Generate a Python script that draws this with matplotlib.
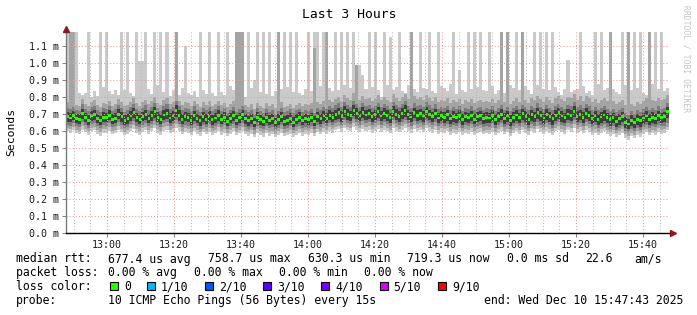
import numpy as np
import matplotlib
matplotlib.use("Agg")
import matplotlib.pyplot as plt
import matplotlib.dates as mdates
from matplotlib.patches import Rectangle
from datetime import datetime, timedelta

# ---------------- data (microseconds) ----------------
title = "Last 3 Hours"
start_time = datetime(2025, 12, 10, 12, 47, 43)
step_seconds = 54

median_us = [
    683,676,690,671,668,702,679,664,688,695,672,660,681,677,693,668,674,699,685,662,
    671,688,706,679,666,684,697,673,690,712,681,667,694,703,676,688,721,692,670,685,
    678,664,691,673,659,683,670,688,665,676,692,668,681,657,674,689,663,677,695,671,
    659,672,648,681,666,654,677,662,671,650,668,683,658,664,675,652,669,680,661,673,
    666,679,657,684,671,688,675,693,681,697,708,686,715,699,690,722,705,688,711,694,
    701,683,696,712,688,705,692,679,716,698,687,704,721,695,682,709,693,701,688,714,
    697,684,702,676,690,681,695,672,686,679,693,668,684,677,691,670,683,689,674,681,
    676,692,668,685,699,674,688,663,681,694,677,701,686,670,695,683,707,689,676,698,
    684,671,693,706,688,679,700,692,715,686,697,681,704,690,673,688,669,682,694,677,
    665,679,658,671,684,652,641,663,648,670,659,676,688,669,681,673,690,678,684,712]

ping1_us = [
    598,590,604,586,581,608,593,577,600,603,584,572,591,589,602,580,586,606,594,575,
    582,598,611,589,579,596,605,585,599,615,590,578,600,608,587,596,620,599,581,594,
    589,575,598,584,571,593,581,596,577,587,599,579,591,569,584,597,575,587,600,581,
    571,582,562,589,576,567,586,573,581,564,577,591,569,575,585,565,579,589,572,583,
    577,589,569,592,581,596,585,600,590,603,609,594,616,604,597,621,608,594,614,599,
    605,590,601,614,594,608,597,586,617,602,592,607,620,599,588,611,597,604,592,615,
    601,589,605,583,594,587,598,578,591,585,596,575,589,583,595,577,588,593,580,586,
    582,595,574,590,602,580,592,569,586,598,583,604,590,576,598,587,609,593,581,601,
    589,576,597,608,592,584,603,595,617,590,600,586,607,594,578,591,574,587,598,582,
    570,584,564,576,588,559,549,568,556,575,565,581,592,574,586,578,593,583,588,604]

ping2_us = [
    615,610,622,606,601,628,612,597,620,624,605,594,612,609,623,600,607,627,614,596,
    603,620,633,610,599,616,626,605,620,637,611,599,622,630,608,617,643,621,602,616,
    610,596,620,605,592,614,602,617,598,608,621,600,612,591,605,618,596,608,622,602,
    592,603,583,610,597,588,607,594,602,585,598,612,590,596,606,586,600,610,593,604,
    598,610,590,613,602,617,606,621,611,624,631,615,638,626,618,644,630,615,636,621,
    627,612,623,636,616,630,619,608,639,624,614,629,642,621,610,633,619,626,614,637,
    623,611,627,605,616,609,620,600,613,607,618,597,611,605,617,599,610,615,602,608,
    604,617,596,612,624,602,614,591,608,620,605,626,612,598,620,609,631,615,603,623,
    611,598,619,630,614,606,625,617,639,612,622,608,629,616,600,613,596,609,620,604,
    592,606,586,598,610,581,571,590,578,597,587,603,614,596,608,600,615,605,610,626]

ping3_us = [
    638,632,646,628,622,650,634,619,642,647,627,616,634,631,645,622,629,650,636,618,
    625,642,656,632,621,638,648,627,642,660,633,621,645,653,630,639,667,643,624,638,
    632,618,642,627,614,636,624,639,620,630,643,622,634,613,627,640,618,630,644,624,
    614,625,604,632,619,610,629,616,624,606,620,634,612,618,628,607,622,632,615,626,
    620,632,612,635,624,639,628,644,633,647,654,637,662,649,641,668,653,638,659,644,
    650,634,646,659,638,653,642,630,662,647,637,652,666,644,632,656,642,649,637,660,
    646,634,650,627,639,631,643,622,635,629,641,619,633,627,640,621,632,638,624,630,
    626,640,618,634,647,624,637,613,630,643,627,649,635,620,643,632,654,638,625,646,
    633,620,642,653,637,628,648,640,662,634,645,630,652,639,622,636,618,631,642,626,
    614,628,608,620,632,602,592,612,599,619,608,625,636,618,630,622,638,627,632,648]

ping4_us = [
    655,650,662,646,641,668,652,638,660,664,645,634,652,650,663,640,647,668,654,637,
    643,660,674,650,640,656,666,645,660,678,652,640,663,671,648,657,685,661,642,656,
    650,637,660,645,632,654,642,657,638,648,661,640,652,631,645,658,636,648,662,642,
    632,643,622,650,637,628,647,634,642,624,638,652,630,636,646,625,640,650,633,644,
    638,650,630,653,642,657,646,662,651,665,672,655,680,667,659,686,671,656,677,662,
    668,652,664,677,656,671,660,648,680,665,655,670,684,662,650,674,660,667,655,678,
    664,652,668,645,657,649,661,640,653,647,659,637,651,645,658,639,650,656,642,648,
    644,658,636,652,665,642,655,631,648,661,645,667,653,638,661,650,672,656,643,664,
    651,638,660,671,655,646,666,658,680,652,663,648,670,657,640,654,636,649,660,644,
    632,646,626,638,650,620,610,630,617,637,626,643,654,636,648,640,656,645,650,676]

ping7_us = [
    712,705,718,700,698,731,708,694,716,724,701,690,710,706,722,697,704,728,714,692,
    700,717,735,708,695,713,726,702,719,741,710,697,723,732,705,717,750,721,699,714,
    707,693,720,702,688,712,699,717,694,705,721,697,710,686,703,718,692,706,724,700,
    688,701,677,710,695,683,706,691,700,679,697,712,687,693,704,681,698,709,690,702,
    695,708,686,713,700,717,704,722,710,726,737,715,744,728,719,751,734,717,740,723,
    730,712,725,741,717,734,721,708,745,727,716,733,750,724,711,738,722,730,717,743,
    726,713,731,705,719,710,724,701,715,708,722,697,713,706,720,699,712,718,703,710,
    705,721,697,714,728,703,717,692,710,723,706,730,715,699,724,712,736,718,705,727,
    713,700,722,735,717,708,729,721,744,715,726,710,733,719,702,717,698,711,723,706,
    694,708,687,700,713,681,670,692,677,699,688,705,717,698,710,702,719,707,713,742]

ping8_us = [
    735,727,741,722,719,756,731,716,740,748,723,712,733,729,746,719,727,752,737,714,
    723,741,760,731,717,737,750,725,743,767,733,720,748,757,728,741,776,745,722,738,
    730,715,744,725,710,735,722,741,717,728,745,720,733,708,726,742,714,729,748,723,
    710,724,699,733,717,705,729,713,723,701,720,736,709,716,727,703,721,732,712,725,
    718,731,708,737,723,741,727,746,734,751,763,739,770,753,743,777,759,741,765,747,
    755,736,749,767,741,759,745,731,771,752,740,758,776,749,735,763,747,755,741,768,
    751,737,756,728,743,733,748,724,739,731,746,720,737,729,744,722,736,742,726,733,
    728,745,720,738,753,726,741,715,734,748,729,755,740,722,749,736,762,743,728,752,
    737,723,747,761,741,731,754,746,770,739,751,734,758,744,725,741,721,735,748,729,
    717,732,710,723,737,704,692,715,700,722,711,729,741,721,734,726,744,731,737,765]

ping9_us = [
    768,1200,1200,752,748,790,761,744,772,781,754,742,763,758,777,749,757,786,768,745,
    752,772,795,762,748,769,783,756,775,802,765,750,780,791,759,773,1200,779,752,769,
    762,746,777,757,741,768,755,774,748,760,779,752,766,740,758,776,1200,1200,1200,755,
    741,756,731,766,749,737,762,746,756,733,1200,770,741,748,760,735,754,767,745,759,
    751,764,1090,771,757,776,1200,782,769,788,801,775,813,792,781,822,990,780,807,786,
    795,775,790,810,781,801,785,770,815,794,779,799,820,790,1200,808,790,798,781,812,
    794,779,799,769,785,774,791,766,782,773,789,761,780,771,787,764,779,785,768,776,
    771,789,762,781,1200,768,1200,756,776,791,773,1200,784,765,794,780,808,788,772,799,
    781,766,793,808,787,776,802,793,819,784,805,779,806,791,771,788,767,782,796,776,
    1200,779,757,770,785,750,1200,761,745,772,758,778,791,1200,785,776,795,782,788,810]

ping10_us = [
    1200,1200,845,1200,822,812,826,1200,798,835,804,1200,861,1200,833,818,842,809,1200,840,
    1200,821,803,1200,1010,1010,1200,847,815,1200,872,1200,829,1200,806,838,1200,812,853,1100,
    824,809,836,801,1200,843,817,1200,822,806,1200,831,814,1200,866,838,1200,1200,1200,802,
    1200,851,900,1200,829,1200,819,1200,808,834,1200,847,1200,858,1200,832,1200,826,811,845,
    1200,836,1200,1200,864,1200,1200,853,837,1200,842,1200,869,1200,851,1200,990,990,930,846,
    1200,858,1200,843,800,1200,871,1150,842,858,1200,836,821,868,1200,849,830,1200,854,844,
    1200,837,822,1200,862,851,834,876,1200,819,960,843,828,1200,847,1200,859,1200,838,833,
    1200,864,816,840,1200,825,1200,873,852,1200,841,1200,866,838,819,1200,870,1200,846,1200,
    841,1200,859,827,813,849,1020,832,838,845,1200,862,823,836,812,1200,874,1200,839,855,
    1200,848,829,815,1200,868,1200,842,1200,853,1200,826,811,1200,877,1200,844,1200,834,852]

y_ticks_ms = [0.0, 0.1, 0.2, 0.3, 0.4, 0.5, 0.6, 0.7, 0.8, 0.9, 1.0, 1.1]
y_top_ms = 1.182

rtt_label = "median rtt:"
rtt_stats = ["677.4 us avg", "758.7 us max", "630.3 us min", "719.3 us now", "0.0 ms sd", "22.6", "am/s"]
rtt_cols = [13, 27, 41, 55, 69, 80, 87]
loss_label = "packet loss:"
loss_stats = ["0.00 % avg", "0.00 % max", "0.00 % min", "0.00 % now"]
loss_cols = [13, 25, 37, 49]
color_label = "loss color:"
loss_names = ["0", "1/10", "2/10", "3/10", "4/10", "5/10", "9/10"]
loss_colors = ["#26ff00", "#00b8ff", "#0059ff", "#5e00ff", "#7e00ff", "#dd00ff", "#ff0000"]
probe_label = "probe:"
probe_text = "10 ICMP Echo Pings (56 Bytes) every 15s"
end_text = "end: Wed Dec 10 15:47:43 2025"
watermark = "RRDTOOL / TOBI OETIKER"

# ---------------- figure ----------------
W, H = 697, 315
MONO = "DejaVu Sans Mono"
fig = plt.figure(figsize=(W / 100, H / 100), dpi=100)
fig.patch.set_facecolor("white")

L, R, T, B = 66, 669, 32, 233
ax = fig.add_axes([L / W, 1 - B / H, (R - L) / W, (B - T) / H])
ax.set_facecolor("white")

n = len(median_us)
edges = mdates.date2num([start_time + timedelta(seconds=step_seconds * i) for i in range(n + 1)])
step = edges[1] - edges[0]

def ms(a):
    return np.asarray(a, dtype=float) / 1000.0

layers = [(ping1_us, ping10_us, "#cacaca"),
          (ping2_us, ping9_us, "#a4a4a4"),
          (ping3_us, ping8_us, "#7e7e7e"),
          (ping4_us, ping7_us, "#3e3e3e")]
for lo, hi, col in layers:
    ax.stairs(ms(hi), edges, baseline=ms(lo), fill=True, color=col, linewidth=0, zorder=1)

med = ms(median_us)
ax.bar(edges[:-1] + step * 0.08, 0.017, bottom=med - 0.0085, width=step * 0.84, align="edge",
       color=loss_colors[0], linewidth=0, zorder=3)

ax.set_xlim(edges[0], edges[-1])
ax.set_ylim(0, y_top_ms)

ax.xaxis.set_major_locator(mdates.MinuteLocator(byminute=[0, 20, 40]))
ax.xaxis.set_minor_locator(mdates.MinuteLocator(byminute=range(0, 60, 5)))
ax.xaxis.set_major_formatter(mdates.DateFormatter("%H:%M"))
ax.set_yticks(y_ticks_ms)
ax.set_yticklabels([f"{v:.1f} m" for v in y_ticks_ms])

ax.set_axisbelow(False)
ax.grid(True, which="major", axis="both", color="#e89a9a", linestyle=(0, (1, 2)), linewidth=0.75)
ax.grid(True, which="minor", axis="x", color="#bdbdbd", linestyle=(0, (1, 2)), linewidth=0.75)

for lab in ax.get_xticklabels() + ax.get_yticklabels():
    lab.set_fontfamily(MONO)
    lab.set_fontsize(7.2)
    lab.set_color("#1a1a1a")
ax.tick_params(axis="both", which="major", length=3, width=0.7, color="#808080", pad=2)
ax.tick_params(axis="x", which="minor", length=0)

for s in ["top", "right"]:
    ax.spines[s].set_visible(False)
ax.spines["left"].set_color("#7a7a7a")
ax.spines["left"].set_linewidth(1.0)
ax.spines["bottom"].set_color("#000000")
ax.spines["bottom"].set_linewidth(1.0)
ax.spines["left"].set_zorder(4)
ax.spines["bottom"].set_zorder(4)

arrow_col = "#8b1a1a"
ax.plot([0], [1.015], marker="^", markersize=4.5, color=arrow_col, transform=ax.transAxes,
        clip_on=False, zorder=5)
ax.plot([1.007], [0], marker=">", markersize=4.5, color=arrow_col, transform=ax.transAxes,
        clip_on=False, zorder=5)

def fx(x):
    return x / W

def fy(y):
    return 1 - y / H

# title, y label, watermark
fig.text(fx(349), fy(18), title, ha="center", va="baseline", fontsize=9.4, family=MONO, color="#000000")
fig.text(fx(11), fy(132), "Seconds", ha="center", va="center", rotation=90, fontsize=8.2,
         family=MONO, color="#000000")
fig.text(fx(686), fy(5), watermark, ha="center", va="top", rotation=270, fontsize=5.8,
         family=MONO, color="#c4c4c4")

FS = 8.3
X0, CW = 16, 7.11
rows_y = [262.5, 276, 290, 304]
# row 1
fig.text(fx(X0), fy(rows_y[0]), rtt_label, family=MONO, fontsize=FS, va="baseline")
for s, c in zip(rtt_stats, rtt_cols):
    fig.text(fx(X0 + c * CW), fy(rows_y[0]), s, family=MONO, fontsize=FS, va="baseline")
# row 2
fig.text(fx(X0), fy(rows_y[1]), loss_label, family=MONO, fontsize=FS, va="baseline")
for s, c in zip(loss_stats, loss_cols):
    fig.text(fx(X0 + c * CW), fy(rows_y[1]), s, family=MONO, fontsize=FS, va="baseline")
# row 3
fig.text(fx(X0), fy(rows_y[2]), color_label, family=MONO, fontsize=FS, va="baseline")
sq_x = [109.5, 146.5, 205, 263, 321, 379.5, 437.5]
lab_x = [124, 160.7, 218.8, 277, 335, 393, 452]
for name, col, sx, lx in zip(loss_names, loss_colors, sq_x, lab_x):
    fig.add_artist(Rectangle((fx(sx), fy(rows_y[2])), 8 / W, 8 / H, transform=fig.transFigure,
                             facecolor=col, edgecolor="black", linewidth=0.8))
    fig.text(fx(lx), fy(rows_y[2]), name, family=MONO, fontsize=FS, va="baseline")
# row 4
fig.text(fx(X0), fy(rows_y[3]), probe_label, family=MONO, fontsize=FS, va="baseline")
fig.text(fx(X0 + 13 * CW), fy(rows_y[3]), probe_text, family=MONO, fontsize=FS, va="baseline")
fig.text(fx(683), fy(rows_y[3]), end_text, family=MONO, fontsize=FS, va="baseline", ha="right")

fig.savefig("out.png", dpi=100, facecolor="white")
